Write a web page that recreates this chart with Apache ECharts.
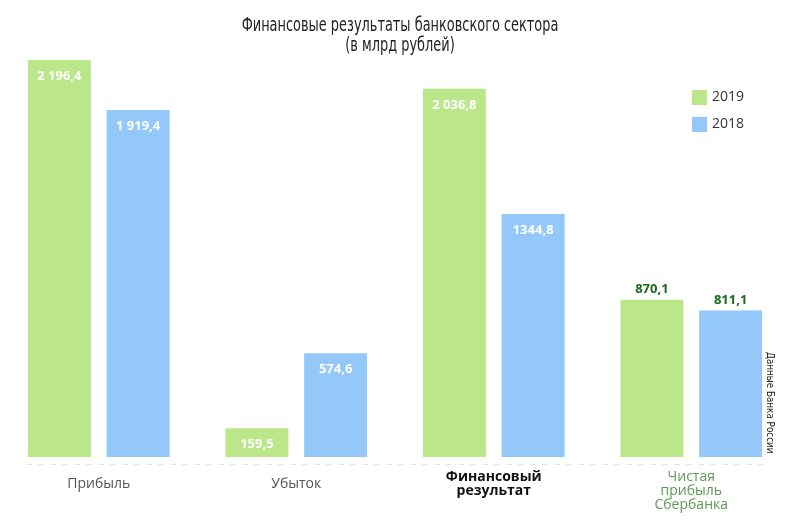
<!DOCTYPE html>
<html>
<head>
<meta charset="utf-8">
<script src="https://cdn.jsdelivr.net/npm/echarts@6/dist/echarts.min.js"></script>
<style>
  html, body { margin: 0; padding: 0; background: #fff; }
  #chart { width: 800px; height: 524px; }
</style>
</head>
<body>
<div id="chart"></div>
<script>
// данные
const categories = ['Прибыль', 'Убыток', 'Финансовый\nрезультат', 'Чистая\nприбыль\nСбербанка']
const years = ['2019', '2018']
const values2019 = [2196.4, 159.5, 2036.8, 870.1]
const values2018 = [1919.4, 574.6, 1344.8, 811.1]
const labels2019 = ['2 196,4', '159,5', '2 036,8', '870,1']
const labels2018 = ['1 919,4', '574,6', '1344,8', '811,1']
const titleText = 'Финансовые результаты банковского сектора\n(в млрд рублей)'

const green = '#bbe78a'
const blue = '#93c8f8'
const font = 'Open Sans, Inter, sans-serif'
const narrow = 'DejaVu Sans, sans-serif'

// стиль подписей оси по категориям
const catStyles = [
  { color: '#555', fontWeight: 'normal', padding: [7, 0, 0, 0] },
  { color: '#555', fontWeight: 'normal', padding: [7, 0, 0, 0] },
  { color: '#111', fontWeight: 'bold' },
  { color: '#5b9a55', fontWeight: 'normal' }
]

function barData(values, labels) {
  return values.map((v, i) => {
    const item = { value: v, label: { formatter: labels[i] } }
    // у Сбербанка подпись над столбцом
    if (i === 3) {
      item.label.position = 'top'
      item.label.distance = 4
      item.label.color = '#1f6b1c'
    }
    return item
  })
}

const chart = echarts.init(document.getElementById('chart'))
chart.setOption({
  animation: false,
  legend: {
    data: years,
    orient: 'vertical',
    left: 687,
    top: 85,
    itemWidth: 15,
    itemHeight: 15,
    itemGap: 12,
    icon: 'rect',
    textStyle: { fontFamily: font, fontSize: 14, color: '#333' }
  },
  grid: {
    left: -2,
    right: 10,
    top: 60,
    bottom: 67,
    containLabel: false
  },
  xAxis: {
    type: 'category',
    data: categories.map((c, i) => ({ value: c, textStyle: catStyles[i] })),
    axisLine: { show: false },
    axisTick: { show: false },
    axisLabel: {
      margin: 13,
      fontFamily: font,
      fontSize: 14,
      lineHeight: 14,
      interval: 0
    }
  },
  yAxis: {
    type: 'value',
    min: 0,
    max: 2196.4,
    show: false,
    splitLine: { show: false }
  },
  series: [
    {
      name: '2019',
      type: 'bar',
      barWidth: 63,
      barGap: '25%',
      itemStyle: { color: green },
      label: {
        show: true,
        position: 'insideTop',
        distance: 10,
        color: '#fff',
        fontFamily: font,
        fontSize: 13,
        fontWeight: 'bold'
      },
      data: barData(values2019, labels2019)
    },
    {
      name: '2018',
      type: 'bar',
      barWidth: 63,
      itemStyle: { color: blue },
      label: {
        show: true,
        position: 'insideTop',
        distance: 10,
        color: '#fff',
        fontFamily: font,
        fontSize: 13,
        fontWeight: 'bold'
      },
      data: barData(values2018, labels2018)
    }
  ],
  graphic: [
    // заголовок узким начертанием (сжатие по горизонтали)
    {
      type: 'text',
      x: 400,
      y: 36,
      scaleX: 0.68,
      style: {
        text: titleText,
        fontFamily: narrow,
        fontSize: 19,
        lineHeight: 20,
        fill: '#222',
        align: 'center',
        verticalAlign: 'middle'
      }
    },
    {
      type: 'line',
      shape: { x1: 26, y1: 464.5, x2: 764, y2: 464.5 },
      style: { stroke: '#e4e4e4', lineWidth: 1, lineDash: [6, 6] }
    },
    {
      type: 'text',
      x: 764,
      y: 352,
      rotation: -Math.PI / 2,
      scaleX: 0.8,
      style: {
        text: 'Данные Банка России',
        fontFamily: narrow,
        fontSize: 11,
        fill: '#222',
        verticalAlign: 'bottom'
      }
    }
  ]
})
</script>
</body>
</html>
